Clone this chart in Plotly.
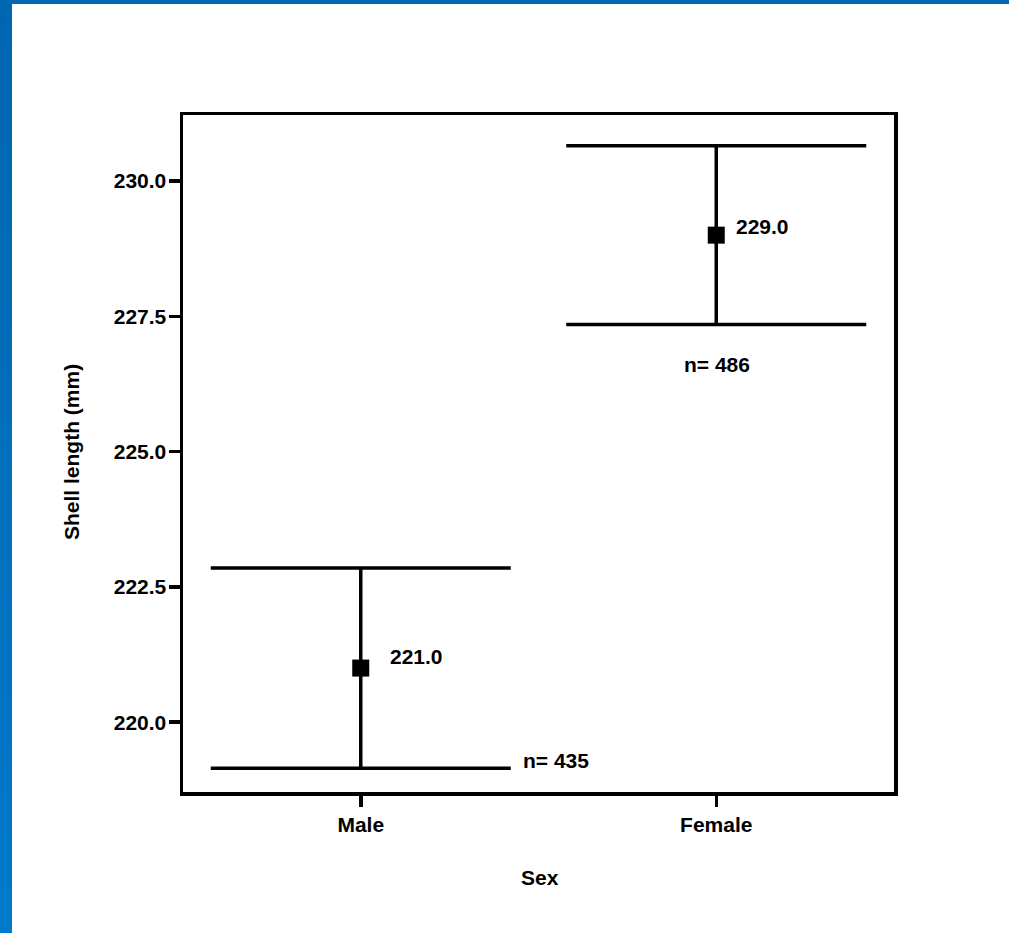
import plotly.graph_objects as go

# Data
categories = ["Male", "Female"]
means = [221.0, 229.0]
err_plus = [1.85, 1.65]
err_minus = [1.85, 1.65]
n_labels = ["n= 435", "n= 486"]
mean_labels = ["221.0", "229.0"]
y_ticks = [220.0, 222.5, 225.0, 227.5, 230.0]

FONT = "Liberation Sans, Arial, sans-serif"
TXT = dict(family=FONT, size=21, color="black", weight="bold")

fig = go.Figure()
fig.add_trace(go.Scatter(
    x=categories, y=means, mode="markers",
    marker=dict(symbol="square", size=17, color="black"),
    error_y=dict(type="data", symmetric=False, array=err_plus, arrayminus=err_minus,
                 color="black", thickness=3.5, width=150),
    showlegend=False, hoverinfo="skip",
))

# value labels
fig.add_annotation(x=categories[0], y=means[0], text=mean_labels[0],
                   showarrow=False, xanchor="left", yanchor="middle", xshift=27, yshift=12,
                   font=TXT)
fig.add_annotation(x=categories[1], y=means[1], text=mean_labels[1],
                   showarrow=False, xanchor="left", yanchor="middle", xshift=18, yshift=9,
                   font=TXT)
# n labels
fig.add_annotation(x=categories[0], y=means[0] - err_minus[0], text=n_labels[0],
                   showarrow=False, xanchor="left", yanchor="middle", xshift=160, yshift=8,
                   font=TXT)
fig.add_annotation(x=categories[1], y=means[1] - err_minus[1], text=n_labels[1],
                   showarrow=False, xanchor="center", yanchor="middle", xshift=1, yshift=-40,
                   font=TXT)

# axis titles
fig.add_annotation(xref="paper", yref="paper", x=(72 - 183) / 711, y=(792 - 452) / 677,
                   text="Shell length (mm)", textangle=-90, showarrow=False,
                   xanchor="center", yanchor="middle", font=TXT)
fig.add_annotation(xref="paper", yref="paper", x=(540 - 183) / 711, y=(792 - 877) / 677,
                   text="Sex", showarrow=False, xanchor="center", yanchor="middle", font=TXT)

# blue frame (gradient left band + top band)
W, H = 711, 677
def px_x(p):
    return (p - 183) / W
def px_y(p):
    return (792 - p) / H

steps = 40
c0 = (0, 102, 176)
c1 = (0, 121, 202)
for i in range(steps):
    t = i / (steps - 1)
    col = "rgb(%d,%d,%d)" % tuple(round(a + (b - a) * t) for a, b in zip(c0, c1))
    ytop = 933 * i / steps
    ybot = 933 * (i + 1) / steps + 1
    fig.add_shape(type="rect", xref="paper", yref="paper",
                  x0=px_x(0), x1=px_x(12), y0=px_y(ybot), y1=px_y(ytop),
                  fillcolor=col, line_width=0, layer="above")
fig.add_shape(type="rect", xref="paper", yref="paper",
              x0=px_x(0), x1=px_x(1009), y0=px_y(4), y1=px_y(0),
              fillcolor="rgb(0,104,178)", line_width=0, layer="above")

axis_common = dict(
    showline=True, linecolor="black", linewidth=3.5, mirror=True,
    ticks="outside", ticklen=11, tickwidth=3.5, tickcolor="black",
    tickfont=TXT, showgrid=False, zeroline=False,
)

fig.update_layout(
    width=1009, height=933,
    margin=dict(l=183, r=115, t=115, b=141),
    paper_bgcolor="white", plot_bgcolor="white",
    font=dict(family=FONT, size=21, color="black"),
    xaxis=dict(type="category", range=[-0.5, 1.5],
               tickvals=categories, ticktext=categories, **axis_common),
    yaxis=dict(range=[218.71, 231.22], ticklabelstandoff=-2,
               tickvals=y_ticks, ticktext=["%.1f" % v for v in y_ticks], **axis_common),
)

fig.write_html("out.html", config={"displayModeBar": False, "staticPlot": True},
               post_script="document.body.style.margin='0';document.body.style.padding='0';"
                           "document.body.style.overflow='hidden';")
